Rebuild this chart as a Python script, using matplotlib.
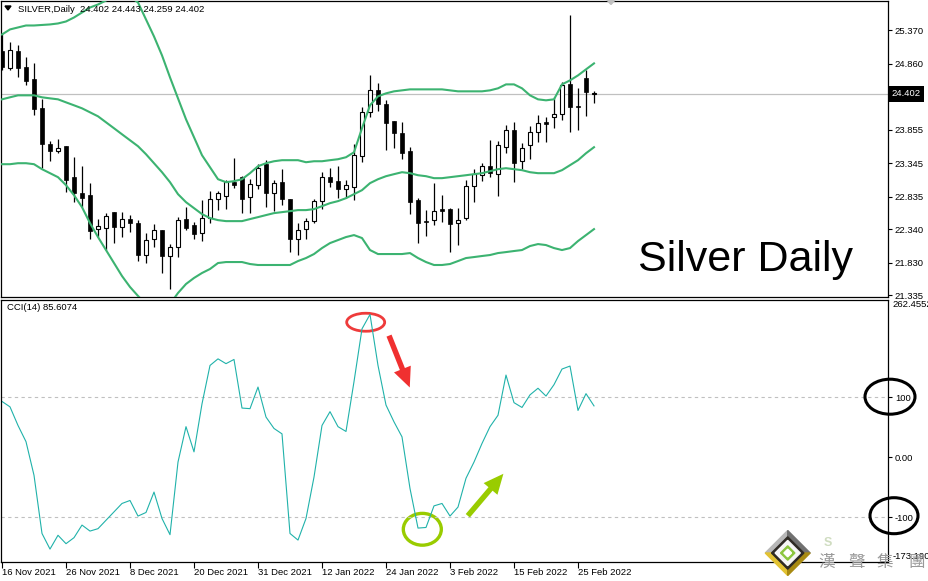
import matplotlib
matplotlib.use("Agg")
import matplotlib.pyplot as plt
import numpy as np
from matplotlib.patches import Ellipse, Polygon, FancyArrowPatch
from matplotlib.transforms import blended_transform_factory

plt.rcParams['font.family'] = ['Liberation Sans', 'DejaVu Sans']

# daily silver candles, 16 Nov 2021 .. 1 Mar 2022
opens = [25.051, 24.792, 25.051, 24.807, 24.625, 24.183, 23.635, 23.529, 23.605, 23.133,
         22.890, 22.859, 22.341, 22.357, 22.600, 22.372, 22.494, 22.433, 21.946, 22.189,
         22.326, 21.931, 22.067, 22.494, 22.402, 22.281, 22.509, 22.798, 22.844, 23.057,
         23.133, 22.829, 23.011, 23.331, 22.890, 23.057, 22.798, 22.189, 22.341, 22.463,
         22.768, 23.133, 23.072, 22.950, 22.981, 23.453, 24.122, 24.457, 24.244, 23.985,
         23.803, 23.529, 22.783, 22.463, 22.478, 22.646, 22.646, 22.433, 22.509, 22.996,
         23.163, 23.300, 23.179, 23.590, 23.848, 23.376, 23.620, 23.818, 23.970, 24.046,
         24.092, 24.548, 24.214, 24.640, 24.402]
highs = [25.330, 25.188, 25.142, 24.959, 24.868, 24.320, 23.681, 23.711, 23.605, 23.437,
         23.300, 23.042, 22.494, 22.585, 22.600, 22.600, 22.555, 22.478, 22.281, 22.418,
         22.326, 22.113, 22.524, 22.676, 22.448, 22.783, 22.920, 22.920, 23.087, 23.422,
         23.148, 23.102, 23.331, 23.392, 23.087, 23.255, 22.798, 22.433, 22.509, 22.798,
         23.209, 23.270, 23.300, 23.087, 23.635, 24.198, 24.685, 24.564, 24.305, 23.985,
         23.970, 23.590, 22.813, 22.631, 23.042, 22.859, 22.661, 22.661, 23.087, 23.255,
         23.346, 23.696, 23.681, 23.924, 23.970, 23.650, 23.909, 24.077, 24.046, 24.351,
         24.579, 25.599, 24.488, 24.762, 24.443]
lows = [24.762, 24.762, 24.655, 24.533, 24.077, 23.270, 23.376, 23.498, 22.905, 22.752,
        22.676, 22.189, 22.220, 22.022, 22.128, 22.220, 22.296, 21.854, 21.824, 22.067,
        21.672, 21.428, 21.915, 22.326, 22.189, 22.159, 22.433, 22.631, 22.646, 22.965,
        22.585, 22.585, 22.950, 22.676, 22.615, 22.707, 21.991, 21.946, 22.189, 22.433,
        22.646, 22.981, 22.813, 22.813, 22.783, 23.361, 24.046, 24.137, 23.544, 23.574,
        23.407, 22.570, 22.128, 22.235, 22.402, 22.448, 21.991, 22.098, 22.478, 22.752,
        23.072, 23.133, 22.844, 23.498, 23.057, 23.255, 23.407, 23.666, 23.666, 23.879,
        24.001, 23.818, 23.848, 24.061, 24.259]
closes = [24.807, 25.066, 24.792, 24.594, 24.168, 23.635, 23.529, 23.574, 23.087, 22.890,
          22.813, 22.311, 22.387, 22.539, 22.372, 22.494, 22.433, 21.946, 22.174, 22.326,
          21.931, 22.067, 22.478, 22.357, 22.265, 22.509, 22.798, 22.890, 23.057, 23.011,
          22.798, 23.026, 23.270, 22.890, 23.042, 22.798, 22.189, 22.326, 22.463, 22.768,
          23.133, 23.057, 22.950, 23.011, 23.468, 24.122, 24.457, 24.244, 23.955, 23.803,
          23.498, 22.752, 22.433, 22.448, 22.615, 22.615, 22.418, 22.478, 22.996, 23.179,
          23.300, 23.194, 23.620, 23.848, 23.346, 23.574, 23.818, 23.955, 23.940, 24.092,
          24.533, 24.198, 24.198, 24.427, 24.402]

# bollinger bands
bb_upper = [25.309, 25.386, 25.416, 25.446, 25.446, 25.454, 25.462, 25.477, 25.507, 25.568,
            25.644, 25.720, 25.766, 25.827, 25.888, 25.918, 25.888, 25.797, 25.538, 25.279,
            24.990, 24.655, 24.335, 24.016, 23.742, 23.468, 23.285, 23.102, 23.057, 23.072,
            23.102, 23.194, 23.300, 23.346, 23.376, 23.392, 23.392, 23.392, 23.361, 23.376,
            23.376, 23.392, 23.407, 23.437, 23.513, 23.879, 24.229, 24.366, 24.411, 24.442,
            24.457, 24.472, 24.472, 24.472, 24.472, 24.472, 24.457, 24.442, 24.442, 24.442,
            24.442, 24.457, 24.488, 24.548, 24.548, 24.488, 24.381, 24.320, 24.305, 24.320,
            24.548, 24.609, 24.685, 24.777, 24.868]
bb_mid = [24.320, 24.351, 24.381, 24.381, 24.381, 24.351, 24.335, 24.320, 24.274, 24.229,
          24.183, 24.122, 24.061, 23.970, 23.879, 23.787, 23.696, 23.605, 23.483, 23.346,
          23.209, 23.057, 22.874, 22.752, 22.661, 22.570, 22.509, 22.478, 22.463, 22.463,
          22.463, 22.494, 22.524, 22.555, 22.585, 22.600, 22.615, 22.631, 22.631, 22.646,
          22.691, 22.737, 22.768, 22.813, 22.874, 22.935, 23.042, 23.102, 23.148, 23.179,
          23.209, 23.194, 23.163, 23.148, 23.118, 23.118, 23.133, 23.148, 23.163, 23.179,
          23.194, 23.224, 23.255, 23.270, 23.255, 23.240, 23.209, 23.194, 23.194, 23.194,
          23.240, 23.316, 23.392, 23.498, 23.590]
bb_lower = [23.331, 23.331, 23.346, 23.346, 23.331, 23.255, 23.194, 23.133, 23.011, 22.859,
            22.676, 22.433, 22.220, 22.022, 21.824, 21.626, 21.459, 21.322, 21.200, 21.109,
            21.109, 21.200, 21.367, 21.504, 21.596, 21.672, 21.733, 21.824, 21.839, 21.839,
            21.839, 21.809, 21.794, 21.794, 21.794, 21.794, 21.794, 21.854, 21.900, 21.961,
            22.052, 22.128, 22.174, 22.220, 22.250, 22.205, 22.022, 21.961, 21.961, 21.961,
            21.961, 21.976, 21.900, 21.839, 21.794, 21.794, 21.809, 21.854, 21.900, 21.915,
            21.931, 21.946, 21.976, 21.991, 22.007, 22.022, 22.083, 22.113, 22.098, 22.052,
            22.022, 22.052, 22.159, 22.250, 22.341]

cci = [93, 84, 53, 26, -30, -127, -153, -130, -144, -134,
       -113, -123, -119, -105, -91, -77, -72, -98, -92, -58,
       -102, -129, -8, 51, 9, 89, 153, 164, 156, 163,
       82, 81, 117, 67, 48, 39, -127, -138, -102, -33,
       53, 76, 51, 43, 126, 214, 238, 153, 87, 59,
       34, -52, -118, -117, -81, -77, -98, -83, -35, -8,
       23, 51, 70, 137, 91, 83, 104, 115, 102, 121,
       147, 152, 78, 106, 85.6074]

date_labels = ["16 Nov 2021", "26 Nov 2021", "8 Dec 2021", "20 Dec 2021", "31 Dec 2021",
               "12 Jan 2022", "24 Jan 2022", "3 Feb 2022", "15 Feb 2022", "25 Feb 2022"]
price_ticks = [25.370, 24.860, 24.350, 23.855, 23.345, 22.835, 22.340, 21.830, 21.335]
cci_ticks = [100, 0, -100]
cci_tick_labels = ["100", "0.00", "-100"]
cci_max, cci_min = 262.4552, -173.1909

W, H = 929, 581
fig = plt.figure(figsize=(W / 100, H / 100), dpi=100)


def px_axes(x0, y0, x1, y1):
    return fig.add_axes([x0 / W, 1 - y1 / H, (x1 - x0) / W, (y1 - y0) / H])


idx = np.arange(len(closes))
o = np.array(opens); c = np.array(closes); h = np.array(highs); l = np.array(lows)

# ---- price panel
ax = px_axes(1, 0.5, 888, 297)
ax.set_xlim(-0.125, 110.75)
ax.set_ylim(21.306, 25.827)
ax.axhline(closes[-1], color="#c0c0c0", lw=0.9, zorder=1)
ax.vlines(idx, l, h, color="black", lw=0.9, zorder=2)
up = c >= o
ax.bar(idx[up], np.maximum(c[up] - o[up], 0.012), bottom=o[up], width=0.5,
       facecolor="white", edgecolor="black", linewidth=0.8, zorder=2.5)
ax.bar(idx[~up], np.maximum(o[~up] - c[~up], 0.012), bottom=c[~up], width=0.6,
       facecolor="black", edgecolor="black", linewidth=0.5, zorder=2.5)
for band in (bb_upper, bb_mid, bb_lower):
    ax.plot(idx, band, color="#3cb371", lw=1.5, zorder=3)

ax.yaxis.tick_right()
ax.set_yticks(price_ticks)
ax.set_yticklabels(["%.3f" % v for v in price_ticks])
ax.set_xticks([])
ax.tick_params(axis="y", length=3, width=0.8, pad=2, labelsize=6.8)
for s in ax.spines.values():
    s.set_linewidth(0.9)
trans = blended_transform_factory(ax.transAxes, ax.transData)
ax.text(1.0035, closes[-1], "%.3f" % closes[-1], transform=trans, color="white",
        fontsize=6.8, va="center", ha="left",
        bbox=dict(facecolor="black", edgecolor="none", pad=2.4), zorder=5)
ax.text(17 / 887, 1 - 9 / 297,
        "SILVER,Daily  %.3f %.3f %.3f %.3f" % (opens[-1], highs[-1], lows[-1], closes[-1]),
        transform=ax.transAxes, fontsize=6.8, va="center", ha="left")

# ---- CCI panel
ax2 = px_axes(1, 299.5, 888, 561.5)
ax2.set_xlim(-0.125, 110.75)
ax2.set_ylim(-173.7, 262.9)
ax2.axhline(100, color="#c0c0c0", lw=0.8, ls=(0, (3, 3)))
ax2.axhline(-100, color="#c0c0c0", lw=0.8, ls=(0, (3, 3)))
ax2.plot(idx, cci, color="#20b2aa", lw=0.8)
ax2.yaxis.tick_right()
ax2.set_yticks(cci_ticks)
ax2.set_yticklabels(cci_tick_labels)
ax2.set_xticks(idx[::8][:len(date_labels)])
ax2.set_xticklabels(date_labels)
for lbl in ax2.get_xticklabels():
    lbl.set_ha("left")
ax2.tick_params(axis="y", length=3, width=0.8, pad=2, labelsize=6.8)
ax2.tick_params(axis="x", length=4, width=0.8, pad=1, labelsize=6.8)
for s in ax2.spines.values():
    s.set_linewidth(0.9)
trans2 = blended_transform_factory(ax2.transAxes, ax2.transData)
ax2.text(1.005, cci_max, "%.4f" % cci_max, transform=trans2, fontsize=6.8,
         va="top", ha="left")
ax2.text(1.005, cci_min, "%.4f" % cci_min, transform=trans2, fontsize=6.8,
         va="bottom", ha="left")
ax2.text(6 / 887, 1 - 8.5 / 262, "CCI(14) %.4f" % cci[-1], transform=ax2.transAxes,
         fontsize=6.8, va="center", ha="left")

# annotations on the CCI
ax2.add_patch(Ellipse((45.46, 225), 4.75, 30, fill=False, ec="#ee3b3b", lw=2, clip_on=False))
ax2.add_patch(FancyArrowPatch((48.25, 207), (51.1, 112),
                              arrowstyle="simple,head_length=1.1,head_width=1.0,tail_width=0.3",
                              mutation_scale=13, color="#f03030", lw=0))
ax2.add_patch(Ellipse((52.54, -120), 4.75, 53, fill=False, ec="#99cc00", lw=2.4))
ax2.add_patch(FancyArrowPatch((58, -101), (62.9, -24),
                              arrowstyle="simple,head_length=1.1,head_width=1.0,tail_width=0.3",
                              mutation_scale=13, color="#99cc00", lw=0))

# ---- overlay in pixel coords: title text, circles, logo
ov = fig.add_axes([0, 0, 1, 1])
ov.set_xlim(0, W)
ov.set_ylim(H, 0)
ov.axis("off")
ov.patch.set_alpha(0)

ov.text(638, 271, "Silver Daily", fontsize=31, ha="left", va="baseline", color="black")
ov.add_patch(Polygon([(5, 6), (11, 6), (8, 10)], closed=True, color="black"))
ov.add_patch(Polygon([(607, 0), (615, 0), (611, 4.5)], closed=True, color="#c0c0c0"))

ov.add_patch(Ellipse((890, 396.7), 50, 35, fill=False, ec="black", lw=2.2))
ov.add_patch(Ellipse((894, 515.7), 48, 36, fill=False, ec="black", lw=2.2))

cx, cy, r = 787.7, 553, 22.5


def diamond(s):
    return [(cx, cy - r * s), (cx + r * s, cy), (cx, cy + r * s), (cx - r * s, cy)]


top, right, bot, left = diamond(1.0)
ov.add_patch(Polygon([(cx, cy), left, top], color="#b8b8b8"))
ov.add_patch(Polygon([(cx, cy), top, right], color="#707070"))
ov.add_patch(Polygon([(cx, cy), left, bot], color="#e2c232"))
ov.add_patch(Polygon([(cx, cy), right, bot], color="#a88a12"))
ov.add_patch(Polygon(diamond(0.72), color="#2e2a24"))
ov.add_patch(Polygon(diamond(0.56), color="#f6f6f6"))
ov.add_patch(Polygon(diamond(0.32), color="#8cc63f"))
ov.add_patch(Polygon(diamond(0.17), color="#ffffff"))
ov.text(828, 543, "S", fontsize=9, color="#cfdcc0", ha="center", va="center",
        fontweight="bold")
for ch, xp in zip("漢聲集團", [827, 857, 885, 917]):
    ov.text(xp, 562, ch, fontsize=12, color="#9a9a9a", ha="center", va="center",
            family=["Noto Sans CJK TC", "DejaVu Sans"])

fig.savefig("out.png", dpi=100)
